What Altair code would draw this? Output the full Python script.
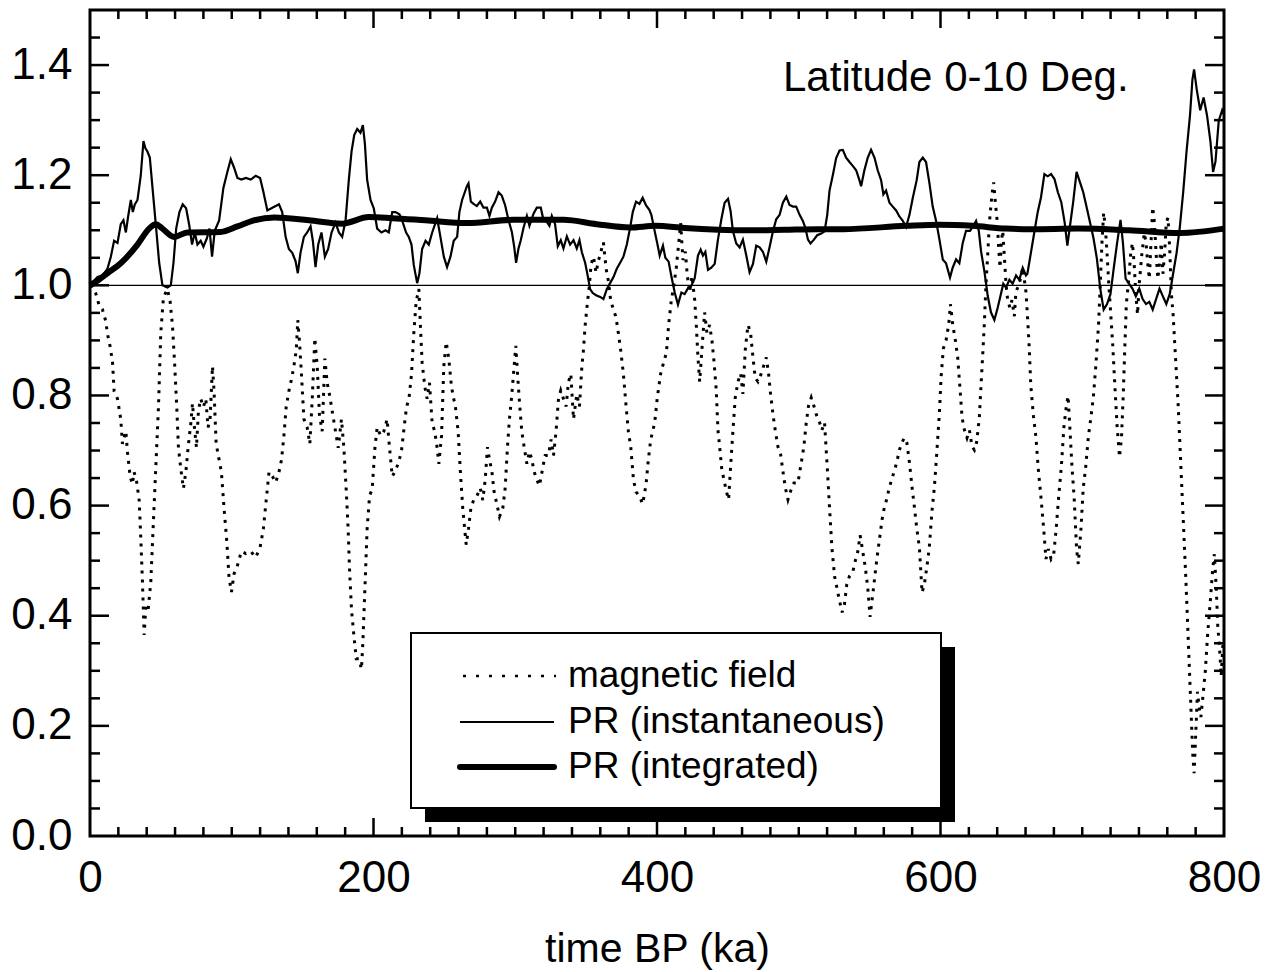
import altair as alt
import pandas as pd

# ---------------- data ----------------
inst_t = [0.0, 5.3, 8.8, 12.3, 14.7, 17.0, 19.4, 21.7, 23.6, 25.3, 26.9, 28.8, 30.2, 31.6, 33.5, 35.8, 37.7, 39.1, 40.5, 42.2,
          44.1, 46.4, 48.8, 51.1, 54.6, 57.0, 58.9, 60.8, 63.1, 65.4, 67.8, 69.9, 72.0, 73.9, 75.8, 78.1, 80.0, 82.4, 84.3, 86.1,
          88.0, 91.1, 94.1, 96.9, 99.3, 101.6, 104.0, 106.8, 109.9, 113.4, 116.9, 120.0, 122.3, 125.1, 128.0, 131.0,
          133.3, 135.6, 138.0, 140.3, 142.7, 145.0, 146.6, 148.5, 150.9, 153.2, 155.6, 157.2, 159.1, 161.0, 163.3, 165.7,
          168.0, 170.4, 173.2, 175.6, 177.9, 180.3, 182.6, 184.5, 186.4, 188.5, 190.8, 192.5, 193.9, 195.5, 197.9, 200.2,
          202.6, 205.6, 208.5, 210.8, 213.2, 215.5, 218.3, 220.2, 223.0, 224.9, 226.8, 228.4, 230.8, 232.4, 234.3, 236.7,
          239.0, 241.4, 244.9, 247.2, 249.6, 251.9, 254.3, 256.6, 259.0, 260.6, 262.5,
          265.9, 267.0, 268.7, 270.6, 272.9, 275.3, 277.6, 280.0, 281.8, 283.5, 285.8, 288.2, 290.5, 292.9, 295.2, 297.6,
          299.2, 300.6, 302.3, 303.9, 305.8, 308.2, 310.0, 312.9, 315.2, 318.0, 319.9, 322.3, 324.1, 325.8, 328.1, 330.0,
          332.1, 334.0, 336.4, 338.7, 341.1, 343.4, 345.3, 347.0, 349.3, 351.0, 352.8, 354.7, 357.0, 359.9, 362.2, 364.6,
          366.9, 369.3, 371.6, 374.0, 376.3, 378.7, 381.0, 382.9, 385.2, 387.6, 389.9, 392.3, 394.6,
          396.0, 398.4, 400.2, 401.9, 404.2, 405.9, 408.2, 410.1, 412.5, 414.8, 417.2, 419.5, 421.9, 424.2, 426.6, 428.9,
          430.8, 432.4, 434.1, 436.0, 438.3, 440.7, 443.0, 445.4, 447.7, 450.1, 451.9, 453.6, 455.9, 458.3, 460.6, 463.0,
          465.3, 467.7, 470.0, 472.4, 474.7, 477.1, 479.4, 481.8, 484.1, 486.5, 488.8, 491.2, 493.5, 495.9, 498.2, 500.6,
          502.9, 504.6, 506.5, 508.3, 510.7, 513.0, 515.9, 518.2, 520.1, 521.7, 524.1, 526.4, 528.8,
          531.1, 533.4, 535.8, 538.1, 540.5, 542.8, 544.0, 546.3, 548.7, 551.0, 553.4, 555.7, 558.1, 559.7, 561.6, 564.0,
          566.3, 568.7, 571.0, 573.4, 575.7, 578.1, 580.4, 583.2, 585.1, 587.5, 589.8, 592.1, 594.5, 596.9, 599.2, 601.6,
          603.9, 606.7, 608.6, 611.0, 613.3, 615.7, 618.0, 620.8, 622.7, 625.1, 627.0, 628.6, 631.0, 633.3, 635.6, 638.0,
          640.3, 642.7, 644.3, 646.2, 648.6, 650.9, 653.3, 655.6, 658.0, 660.3,
          661.3, 663.7, 666.1, 668.5, 670.9, 673.3, 675.6, 678.0, 680.4, 682.8, 685.2, 687.6, 689.5, 691.2, 693.6, 696.0,
          698.3, 700.7, 703.1, 705.5, 707.9, 710.3, 712.7, 715.1, 717.5, 719.9, 722.2, 724.6, 727.0, 728.7, 730.6, 733.0,
          735.4, 737.8, 740.2, 742.6, 745.0, 747.3, 749.7, 752.1, 754.5, 756.9, 759.3, 761.7, 764.1, 766.5, 768.8, 771.2,
          773.6, 776.0, 777.7, 778.9, 780.8, 783.2, 785.6, 788.0, 790.4, 792.3, 794.0, 796.3, 798.7, 800.0]
inst_v = [1.0, 1.015, 1.018, 1.03, 1.052, 1.081, 1.077, 1.111, 1.118, 1.096, 1.125, 1.155, 1.133, 1.147, 1.155, 1.199, 1.262, 1.249, 1.243, 1.232,
          1.177, 1.111, 1.041, 1.0, 0.996, 1.0, 1.041, 1.103, 1.133, 1.147, 1.14, 1.111, 1.074, 1.096, 1.074, 1.081, 1.07, 1.085, 1.103, 1.052,
          1.099, 1.118, 1.177, 1.206, 1.229, 1.214, 1.195, 1.192, 1.195, 1.192, 1.199, 1.195, 1.17, 1.136, 1.14, 1.144,
          1.147, 1.133, 1.088, 1.066, 1.059, 1.044, 1.022, 1.059, 1.088, 1.096, 1.107, 1.081, 1.033, 1.074, 1.096, 1.052,
          1.066, 1.096, 1.114, 1.096, 1.088, 1.118, 1.192, 1.243, 1.273, 1.284, 1.277, 1.291, 1.258, 1.192, 1.155, 1.14,
          1.103, 1.096, 1.1, 1.096, 1.133, 1.133, 1.129, 1.118, 1.096, 1.088, 1.074, 1.037, 1.004, 1.022, 1.066, 1.081,
          1.074, 1.096, 1.122, 1.088, 1.052, 1.033, 1.052, 1.081, 1.088, 1.133, 1.155,
          1.18, 1.185, 1.152, 1.148, 1.144, 1.152, 1.141, 1.141, 1.126, 1.141, 1.152, 1.169, 1.163, 1.145, 1.119, 1.097,
          1.071, 1.041, 1.067, 1.082, 1.104, 1.126, 1.108, 1.13, 1.141, 1.141, 1.119, 1.115, 1.108, 1.126, 1.111, 1.071,
          1.082, 1.067, 1.089, 1.074, 1.082, 1.067, 1.082, 1.06, 1.041, 1.019, 0.993, 0.986, 0.982, 0.979, 0.975, 0.993,
          1.004, 1.015, 1.03, 1.041, 1.052, 1.074, 1.104, 1.133, 1.152, 1.148, 1.159, 1.145, 1.137,
          1.128, 1.098, 1.076, 1.054, 1.072, 1.05, 1.043, 1.017, 0.987, 0.965, 0.987, 0.984, 0.995, 0.999, 1.013, 1.054,
          1.065, 1.054, 1.061, 1.028, 1.032, 1.039, 1.083, 1.12, 1.15, 1.157, 1.135, 1.098, 1.076, 1.069, 1.083, 1.054,
          1.024, 1.039, 1.072, 1.069, 1.061, 1.043, 1.069, 1.098, 1.12, 1.128, 1.15, 1.161, 1.146, 1.143, 1.143, 1.128,
          1.117, 1.105, 1.083, 1.076, 1.083, 1.091, 1.094, 1.098, 1.128, 1.172, 1.201, 1.231, 1.245,
          1.246, 1.232, 1.224, 1.217, 1.209, 1.191, 1.18, 1.209, 1.232, 1.246, 1.232, 1.209, 1.191, 1.165, 1.172, 1.15,
          1.143, 1.136, 1.125, 1.117, 1.106, 1.128, 1.158, 1.191, 1.224, 1.232, 1.224, 1.187, 1.143, 1.117, 1.084, 1.047,
          1.04, 1.014, 1.032, 1.047, 1.04, 1.077, 1.099, 1.099, 1.106, 1.117, 1.099, 1.062, 1.025, 0.981, 0.951, 0.937,
          0.959, 0.985, 1.003, 0.996, 1.01, 1.003, 1.018, 1.01, 1.032, 1.018,
          1.021, 1.058, 1.095, 1.132, 1.16, 1.202, 1.198, 1.202, 1.193, 1.169, 1.151, 1.114, 1.072, 1.105, 1.151, 1.206,
          1.188, 1.169, 1.142, 1.114, 1.086, 1.049, 0.994, 0.956, 0.966, 0.984, 1.031, 1.077, 1.119, 1.077, 1.012, 1.003,
          0.994, 0.98, 0.994, 0.975, 0.966, 0.97, 0.956, 0.975, 0.994, 0.98, 0.966, 0.984, 1.021, 1.058, 1.105, 1.169,
          1.244, 1.308, 1.373, 1.392, 1.355, 1.318, 1.341, 1.309, 1.262, 1.206, 1.225, 1.299, 1.318, 1.31]

mag_t = [0.0, 4.1, 6.5, 8.8, 11.2, 12.3, 14.2, 15.9, 17.0, 19.4, 21.7, 22.9, 25.3, 26.4, 28.3, 29.9, 31.1, 33.0, 34.7, 35.8,
         37.0, 38.2, 39.4, 41.0, 42.9, 44.5, 46.4, 48.3, 49.9, 51.8, 54.6, 56.5, 58.2, 59.8, 61.2, 62.4, 64.0, 65.9, 67.6, 69.2,
         71.1, 72.3, 73.4, 75.1, 76.5, 78.1, 80.0, 81.7, 83.3, 84.7, 86.4, 87.5, 89.0, 91.1, 92.7, 94.6, 96.5, 98.1, 99.8, 101.6,
         104.0, 106.8, 109.9, 113.4, 116.9, 120.0, 122.3, 124.0, 126.3, 128.7, 131.0,
         133.3, 135.1, 136.8, 138.4, 140.3, 142.2, 143.8, 145.5, 146.6, 147.8, 149.2, 150.9, 153.2, 155.1, 156.8, 158.6,
         160.3, 161.9, 163.8, 165.7, 167.3, 169.0, 170.9, 173.2, 175.1, 177.4, 179.1, 180.7, 182.1, 183.1, 184.5, 186.1,
         187.8, 189.7, 191.5, 192.5, 193.9, 195.5, 197.2, 199.1, 201.0, 202.6, 205.0, 207.3, 209.6, 211.3, 213.2, 215.0,
         217.4, 219.7, 221.6, 223.3, 225.0, 226.8, 228.4, 230.1, 232.0, 233.1, 234.3, 236.2, 237.8, 239.5, 241.4, 243.2,
         244.9, 246.1, 248.0, 249.6, 251.3, 253.1, 255.0, 256.6, 257.8, 259.7, 261.3, 263.0,
         265.4, 267.0, 268.7, 270.6, 272.9, 275.3, 277.1, 278.8, 280.4, 281.8, 283.5, 285.1, 287.0, 288.9, 291.2, 292.9,
         294.5, 295.9, 297.6, 299.2, 300.4, 301.6, 303.0, 304.6, 306.3, 308.2, 310.0, 311.7, 313.3, 315.2, 317.1, 319.4,
         321.1, 323.4, 325.3, 327.0, 328.8, 330.5, 332.1, 334.0, 335.9, 337.5, 339.2, 341.1, 343.4, 345.3, 347.0, 348.1,
         349.3, 351.0, 352.3, 353.5, 355.2, 357.0, 358.7, 360.3, 362.2, 364.1, 365.7, 367.4, 369.3, 371.1, 372.8, 374.4,
         376.3, 378.2, 379.8, 381.5, 383.4, 385.2, 387.6, 389.9, 392.3, 393.9, 395.6,
         398.4, 400.2, 402.6, 404.9, 406.6, 408.2, 410.1, 412.0, 413.6, 415.3, 416.7, 418.3, 420.0, 421.4, 423.0, 424.7,
         426.6, 427.7, 428.9, 430.1, 431.7, 433.6, 435.2, 437.1, 438.8, 440.2, 441.8, 443.0, 444.2, 445.8, 447.2, 448.9,
         450.5, 451.9, 453.6, 455.2, 457.1, 459.0, 460.6, 462.3, 464.2, 466.0, 467.7, 469.3, 471.2, 473.6, 477.1, 478.7,
         480.1, 481.8, 483.4, 485.3, 487.2, 488.8, 490.5, 492.4, 494.2, 496.6, 499.4, 501.8, 503.6, 505.3, 506.9, 508.8,
         510.7, 512.3, 514.7, 516.3, 518.2, 520.1, 521.7, 523.4, 525.3, 528.8,
         530.6, 532.2, 533.9, 535.8, 538.1, 540.0, 541.6, 543.3, 545.2, 547.0, 548.7, 550.3, 551.7, 553.4, 555.0, 556.9,
         558.8, 560.4, 562.1, 564.0, 565.8, 567.5, 569.1, 571.0, 572.9, 574.5, 576.2, 578.1, 579.9, 581.6, 583.2, 585.1,
         587.0, 588.6, 590.3, 592.1, 594.0, 595.7, 597.3, 599.2, 600.4, 602.0, 603.9, 605.8, 607.0, 608.6, 610.5, 612.1,
         613.8, 615.2, 616.9, 618.7, 620.4, 622.2, 623.9, 625.5, 627.4, 628.6, 629.7, 630.9, 632.1, 633.3, 634.5, 636.3,
         637.5, 638.7, 640.1, 641.0, 642.0, 642.9, 643.9, 645.0, 646.2, 647.4, 649.0, 650.4, 652.1, 653.2, 655.6, 658.0,
         660.3,
         661.3, 662.5, 663.7, 665.6, 667.3, 668.9, 670.9, 672.8, 674.4, 676.1, 678.0, 679.9, 681.6, 683.3, 685.2, 687.1,
         688.8, 690.0, 691.2, 692.8, 694.3, 696.0, 697.2, 699.1, 700.7, 702.4, 704.3, 706.2, 707.9, 709.6, 711.5, 712.7,
         713.9, 715.1, 716.3, 717.5, 718.7, 719.9, 721.5, 723.0, 724.6, 726.3, 727.7, 728.9, 730.1, 731.1, 732.5, 734.2,
         735.4, 736.6, 737.8, 739.0, 740.2, 742.1, 743.8, 745.0, 746.2, 747.3, 748.5, 749.7, 750.9, 752.1, 753.3, 754.5,
         755.7, 756.9, 758.1, 759.3, 760.5, 761.7, 762.9, 764.1, 765.7, 767.7, 769.3, 771.2, 773.1, 774.8, 776.5, 777.9,
         778.9, 780.1, 781.3, 782.5, 783.7, 785.1, 786.8, 788.4, 790.4, 792.0, 793.2, 794.6, 795.6, 797.0, 798.0, 799.4]
mag_v = [1.0, 0.985, 0.963, 0.956, 0.934, 0.912, 0.889, 0.86, 0.808, 0.794, 0.757, 0.712, 0.735, 0.698, 0.653, 0.639, 0.661, 0.642, 0.609, 0.543,
         0.462, 0.365, 0.417, 0.41, 0.462, 0.557, 0.668, 0.779, 0.912, 0.978, 0.993, 0.971, 0.926, 0.853, 0.779, 0.705, 0.668, 0.631, 0.661, 0.705,
         0.749, 0.786, 0.749, 0.705, 0.772, 0.794, 0.779, 0.794, 0.742, 0.757, 0.853, 0.808, 0.712, 0.683, 0.661, 0.594, 0.535, 0.469, 0.443, 0.476,
         0.491, 0.517, 0.513, 0.517, 0.506, 0.524, 0.558, 0.602, 0.661, 0.653, 0.642,
         0.661, 0.683, 0.727, 0.779, 0.808, 0.83, 0.853, 0.882, 0.937, 0.897, 0.838, 0.757, 0.742, 0.712, 0.794, 0.904,
         0.853, 0.764, 0.735, 0.867, 0.823, 0.801, 0.771, 0.735, 0.705, 0.757, 0.705, 0.631, 0.558, 0.484, 0.41, 0.366,
         0.322, 0.322, 0.303, 0.351, 0.447, 0.558, 0.617, 0.631, 0.705, 0.742, 0.727, 0.735, 0.757, 0.705, 0.653, 0.661,
         0.676, 0.698, 0.742, 0.779, 0.794, 0.838, 0.912, 0.971, 0.993, 0.926, 0.86, 0.816, 0.794, 0.823, 0.749, 0.735,
         0.705, 0.676, 0.727, 0.853, 0.897, 0.867, 0.816, 0.794, 0.779, 0.735, 0.661, 0.594,
         0.529, 0.558, 0.595, 0.61, 0.617, 0.632, 0.61, 0.647, 0.706, 0.684, 0.662, 0.625, 0.603, 0.58, 0.595, 0.632,
         0.706, 0.757, 0.802, 0.853, 0.89, 0.839, 0.787, 0.735, 0.706, 0.676, 0.698, 0.684, 0.662, 0.647, 0.636, 0.669,
         0.691, 0.691, 0.72, 0.691, 0.735, 0.794, 0.809, 0.794, 0.78, 0.824, 0.839, 0.757, 0.802, 0.78, 0.853, 0.882,
         0.927, 0.971, 1.0, 1.038, 1.052, 1.023, 1.045, 1.06, 1.078, 1.03, 1.008, 0.971, 0.956, 0.942, 0.912, 0.882,
         0.839, 0.78, 0.735, 0.706, 0.647, 0.625, 0.617, 0.603, 0.639, 0.684, 0.72,
         0.751, 0.796, 0.84, 0.862, 0.877, 0.928, 0.973, 1.002, 1.032, 1.076, 1.113, 1.046, 1.061, 1.017, 0.987, 1.017,
         0.973, 0.928, 0.869, 0.825, 0.884, 0.951, 0.914, 0.928, 0.899, 0.862, 0.81, 0.737, 0.707, 0.663, 0.648, 0.626,
         0.611, 0.67, 0.737, 0.796, 0.825, 0.84, 0.803, 0.884, 0.928, 0.914, 0.869, 0.832, 0.825, 0.84, 0.869, 0.84,
         0.803, 0.766, 0.737, 0.707, 0.693, 0.663, 0.633, 0.611, 0.626, 0.641, 0.641, 0.678, 0.707, 0.751, 0.781, 0.796,
         0.781, 0.766, 0.751, 0.737, 0.751, 0.67, 0.597, 0.523, 0.471, 0.427,
         0.406, 0.42, 0.457, 0.472, 0.479, 0.501, 0.516, 0.546, 0.516, 0.487, 0.45, 0.398, 0.428, 0.465, 0.501, 0.538,
         0.575, 0.597, 0.612, 0.634, 0.649, 0.664, 0.678, 0.701, 0.715, 0.723, 0.715, 0.678, 0.634, 0.597, 0.56, 0.524,
         0.442, 0.457, 0.487, 0.524, 0.59, 0.634, 0.693, 0.767, 0.833, 0.885, 0.9, 0.929, 0.966, 0.929, 0.9, 0.87,
         0.811, 0.76, 0.737, 0.723, 0.737, 0.708, 0.701, 0.715, 0.76, 0.819, 0.87, 0.929, 1.003, 1.055, 1.114, 1.165,
         1.187, 1.15, 1.114, 1.069, 1.032, 1.077, 1.099, 1.055, 1.003, 0.973, 0.959, 0.973, 0.944, 0.988, 1.003, 1.032,
         0.988,
         0.947, 0.892, 0.818, 0.762, 0.725, 0.669, 0.614, 0.558, 0.503, 0.521, 0.503, 0.512, 0.558, 0.614, 0.669, 0.744,
         0.781, 0.799, 0.744, 0.669, 0.614, 0.521, 0.494, 0.558, 0.632, 0.669, 0.725, 0.762, 0.799, 0.855, 0.929, 1.003,
         1.077, 1.132, 1.105, 1.058, 1.003, 0.956, 0.892, 0.818, 0.744, 0.688, 0.725, 0.799, 0.892, 0.966, 1.003, 1.058,
         1.077, 1.04, 0.984, 0.947, 1.003, 1.058, 1.095, 1.077, 1.04, 1.012, 1.077, 1.142, 1.114, 1.058, 1.012, 1.04,
         1.077, 1.021, 1.058, 1.114, 1.123, 1.067, 0.984, 0.947, 0.873, 0.781, 0.688, 0.577, 0.466, 0.355, 0.244, 0.151,
         0.114, 0.188, 0.262, 0.234, 0.216, 0.253, 0.299, 0.364, 0.429, 0.484, 0.512, 0.447, 0.382, 0.336, 0.29, 0.355]

integ_t = [0.0, 5.0, 12.3, 21.7, 33.5, 41.7, 46.4, 51.1, 59.3, 68.7, 92.2, 104.0, 115.7, 130.0, 154.4, 177.9, 196.7, 213.2,
           236.7, 266.0, 298.8, 334.0, 357.5, 381.0, 399.0, 419.5, 443.0, 466.5, 490.0, 513.5, 531.0, 575.7, 599.2, 622.7,
           646.2, 664.0, 697.0, 733.0, 768.8, 800.0]
integ_v = [1.0, 1.008, 1.022, 1.04, 1.074, 1.103, 1.111, 1.103, 1.088, 1.096, 1.097, 1.107, 1.118, 1.123, 1.118, 1.112, 1.124, 1.122,
           1.118, 1.113, 1.119, 1.119, 1.111, 1.105, 1.108, 1.104, 1.101, 1.1, 1.101, 1.102, 1.102, 1.108, 1.11, 1.108,
           1.103, 1.102, 1.103, 1.1, 1.095, 1.103]

reference_level = [1.0]
x_label_values = [0, 200, 400, 600, 800]
y_label_values = [0.0, 0.2, 0.4, 0.6, 0.8, 1.0, 1.2, 1.4]
x_major_ticks = [200, 400, 600]
x_minor_ticks = [t for t in range(20, 800, 20) if t % 200 != 0]
y_major_ticks = [0.2, 0.4, 0.6, 0.8, 1.0, 1.2, 1.4]
y_minor_ticks = [round(0.05 * i, 2) for i in range(1, 30) if i % 4 != 0]

legend_labels = ["magnetic field", "PR (instantaneous)", "PR (integrated)"]
panel_title = "Latitude 0-10 Deg."
x_title = "time BP (ka)"

# ---------------- chart ----------------
FONT = "Liberation Sans"
W, H = 1134, 826

xs = alt.Scale(domain=[0, 800], nice=False, zero=False)
ys = alt.Scale(domain=[0, 1.5], nice=False, zero=False)

xa = alt.Axis(values=x_label_values, format="d", title=x_title, ticks=False, tickSize=0, domain=False, grid=False,
              labelFont=FONT, labelFontSize=44, labelColor="black", labelPadding=55, labelBaseline="alphabetic",
              labelOverlap=False, labelFlush=False, labelBound=False,
              titleFont=FONT, titleFontSize=41, titleFontWeight="normal", titleColor="black",
              titleBaseline="alphabetic", titleY=125)
ya = alt.Axis(values=y_label_values, format=".1f", title=None, ticks=False, tickSize=0, domain=False, grid=False,
              labelFont=FONT, labelFontSize=44, labelColor="black", labelPadding=18,
              labelOverlap=False, labelFlush=False, labelBound=False)

X = alt.X("t:Q", scale=xs, axis=xa)
Y = alt.Y("v:Q", scale=ys, axis=ya)

mag_df = pd.DataFrame({"t": mag_t, "v": mag_v})
inst_df = pd.DataFrame({"t": inst_t, "v": inst_v})
integ_df = pd.DataFrame({"t": integ_t, "v": integ_v})
ref_df = pd.DataFrame({"v": reference_level})

ref_line = alt.Chart(ref_df).mark_rule(color="black", strokeWidth=1.2).encode(y=Y)
mag_line = alt.Chart(mag_df).mark_line(color="black", strokeWidth=3, strokeDash=[3, 6]).encode(x=X, y=Y)
inst_line = alt.Chart(inst_df).mark_line(color="black", strokeWidth=2.2).encode(x=X, y=Y)
integ_line = alt.Chart(integ_df).mark_line(color="black", strokeWidth=6, interpolate="monotone").encode(x=X, y=Y)

# inward ticks on all four sides
yt_major = pd.DataFrame({"v": y_major_ticks})
yt_minor = pd.DataFrame({"v": y_minor_ticks})
xt_major = pd.DataFrame({"t": x_major_ticks})
xt_minor = pd.DataFrame({"t": x_minor_ticks})
tk = dict(color="black", strokeWidth=2.5)
ticks = [
    alt.Chart(yt_major).mark_rule(**tk).encode(y=Y, x=alt.value(0), x2=alt.value(19)),
    alt.Chart(yt_minor).mark_rule(**tk).encode(y=Y, x=alt.value(0), x2=alt.value(10)),
    alt.Chart(yt_major).mark_rule(**tk).encode(y=Y, x=alt.value(W), x2=alt.value(W - 19)),
    alt.Chart(yt_minor).mark_rule(**tk).encode(y=Y, x=alt.value(W), x2=alt.value(W - 10)),
    alt.Chart(xt_major).mark_rule(**tk).encode(x=X, y=alt.value(H), y2=alt.value(H - 18)),
    alt.Chart(xt_minor).mark_rule(**tk).encode(x=X, y=alt.value(H), y2=alt.value(H - 9)),
    alt.Chart(xt_major).mark_rule(**tk).encode(x=X, y=alt.value(0), y2=alt.value(18)),
    alt.Chart(xt_minor).mark_rule(**tk).encode(x=X, y=alt.value(0), y2=alt.value(9)),
]

# hand-drawn legend box with drop shadow
one = pd.DataFrame({"k": [0]})
LX0, LX1, LY0, LY1, SH = 321, 851, 623, 798, 14
shadow = alt.Chart(one).mark_rect(color="black").encode(
    x=alt.value(LX0 + SH), x2=alt.value(LX1 + SH), y=alt.value(LY0 + SH), y2=alt.value(LY1 + SH))
box = alt.Chart(one).mark_rect(fill="white", stroke="black", strokeWidth=2).encode(
    x=alt.value(LX0), x2=alt.value(LX1), y=alt.value(LY0), y2=alt.value(LY1))
rows_y = [666, 712, 757]
leg_lines = [
    alt.Chart(one).mark_rule(color="black", strokeWidth=2.5, strokeDash=[3, 10]).encode(
        x=alt.value(373), x2=alt.value(466), y=alt.value(rows_y[0])),
    alt.Chart(one).mark_rule(color="black", strokeWidth=2).encode(
        x=alt.value(370), x2=alt.value(464), y=alt.value(rows_y[1])),
    alt.Chart(one).mark_rule(color="black", strokeWidth=6, strokeCap="round").encode(
        x=alt.value(370), x2=alt.value(464), y=alt.value(rows_y[2])),
]
leg_texts = [
    alt.Chart(one).mark_text(align="left", baseline="middle", font=FONT, fontSize=37, color="black",
                             text=lab).encode(x=alt.value(478), y=alt.value(yy))
    for lab, yy in zip(legend_labels, rows_y)
]
title_txt = alt.Chart(one).mark_text(align="left", baseline="middle", font=FONT, fontSize=42, color="black",
                                     text=panel_title).encode(x=alt.value(693), y=alt.value(68))

chart = alt.layer(
    ref_line, mag_line, inst_line, integ_line, *ticks,
    shadow, box, *leg_lines, *leg_texts, title_txt
).properties(
    width=W, height=H,
    autosize=alt.AutoSizeParams(type="none"),
    padding={"left": 90, "top": 10, "right": 49, "bottom": 136},
    background="white",
).configure_view(stroke="black", strokeWidth=3)

chart.save("out.html", embed_options={"renderer": "svg", "actions": False})
